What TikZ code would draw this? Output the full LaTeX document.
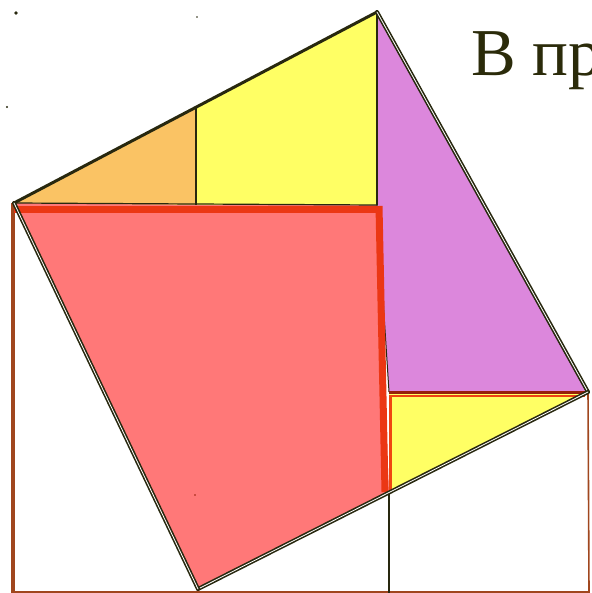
\documentclass[tikz,border=0pt]{standalone}
\usepackage{fontspec}
\setmainfont{Liberation Serif}
\usepackage{xcolor}
\usepackage{tikz}
\definecolor{figdark}{RGB}{40,40,15}
\definecolor{figtext}{RGB}{43,43,10}
\definecolor{figbrown}{RGB}{160,70,30}
\definecolor{figred}{RGB}{235,55,20}
\definecolor{figdeep}{RGB}{150,30,10}
\definecolor{figpink}{RGB}{255,120,120}
\definecolor{figorange}{RGB}{250,195,100}
\definecolor{figyellow}{RGB}{255,255,100}
\definecolor{figpurple}{RGB}{220,135,220}

\begin{document}
\begin{tikzpicture}[
  x=1pt, y=-1pt,
  solidedge/.style={figdark, line width=3pt, line cap=round, line join=round},
  dbledge/.style={draw=figdark, double=white, double distance=0.8pt,
                  line width=1.6pt, line cap=round},
  thinline/.style={figdark, line width=1.2pt},
  frame/.style={figbrown, line width=1.6pt},
  redline/.style={figred, line width=7pt},
  speck/.style={fill=figdark},
]
\useasboundingbox (0,0) rectangle (591,593);
\clip (0,0) rectangle (591,593);

% Corners of the tilted square
\coordinate (A) at (14,203);
\coordinate (B) at (377,12);
\coordinate (C) at (588,392);
\coordinate (D) at (198,589);

% Inner points
\coordinate (P) at (196,108);
\coordinate (Q) at (196,205);
\coordinate (R) at (377,205);
\coordinate (S) at (389,493);
\coordinate (T) at (389,392);

% Coloured pieces
\fill[figpink]   (A) -- (R) -- (S) -- (D) -- cycle;
\fill[figorange] (A) -- (P) -- (Q) -- cycle;
\fill[figyellow] (P) -- (B) -- (R) -- (Q) -- cycle;
\fill[figpurple] (B) -- (C) -- (T) -- (R) -- cycle;
\fill[figyellow] (T) -- (C) -- (S) -- cycle;

% Outer frame
\draw[figbrown, line width=4.5pt] (13,203) -- (13,593);
\draw[frame] (13,592) -- (589,592);
\draw[frame] (C) -- (589,593);
\draw[thinline] (S) -- (389,593);

% Dividing lines
\draw[thinline] (P) -- (Q);
\draw[figdark, line width=1.8pt] (B) -- (R);
\draw[thinline] (A) -- (R);
\draw[figdark, line width=1pt] (R) -- (T);
\draw[figdeep, line width=3pt] (T) -- (C);
\draw[figred!80!orange, line width=3pt] (390,395) -- (390,491);
\draw[figred!85!orange, line width=2pt] (392,396) -- (585,396);

% Red square edges
\draw[redline] (14,209.5) -- (381,209.5);
\draw[redline] (379,206) -- (385,492);

% Sides of the tilted square
\draw[solidedge] (A) -- (B);
\draw[dbledge] (B) -- (C);
\draw[dbledge] (C) -- (D);
\draw[dbledge] (D) -- (A);

% Specks
\fill[speck] (16,13) circle (1.8);
\fill[speck] (197,17) circle (0.9);
\fill[speck] (7,107) circle (1.1);
\fill[figdeep] (195,495) circle (0.9);

% Heading
\node[anchor=base west, inner sep=0, text=figtext,
      font=\fontsize{67}{67}\selectfont] (head) at (471,76) {В пр};

\end{tikzpicture}
\end{document}
